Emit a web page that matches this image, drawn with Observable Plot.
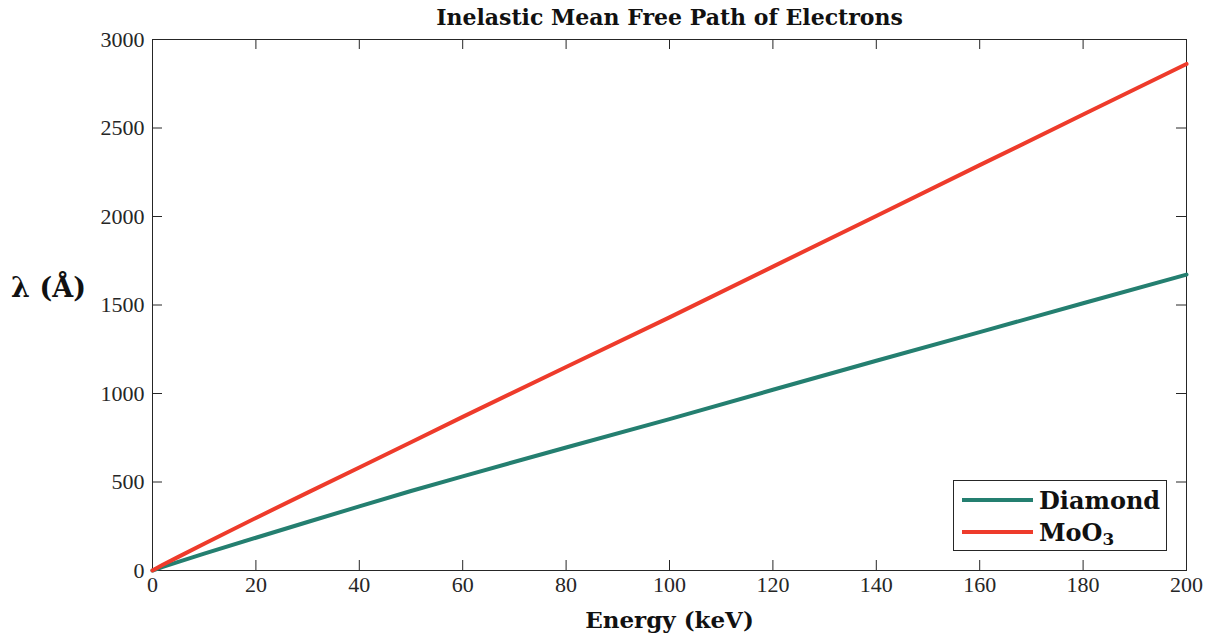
<!DOCTYPE html>
<html><head><meta charset="utf-8">
<script src="https://cdn.jsdelivr.net/npm/d3@7"></script>
<script src="https://cdn.jsdelivr.net/npm/@observablehq/plot@0.6"></script>
<style>
body{margin:0;background:#fff;}
#wrap{position:relative;width:1208px;height:635px;}
#legend{position:absolute;left:953px;top:480px;width:212px;height:69px;border:1px solid #262626;background:#fff;font-family:"DejaVu Serif";font-weight:bold;font-size:24px;color:#111;}
.row{position:absolute;left:0;height:32px;display:flex;align-items:center;white-space:nowrap;}
.sw{display:inline-block;width:71px;height:4px;margin-left:8px;margin-right:6px;}
sub{font-size:0.7em;vertical-align:-0.25em;line-height:0;}
</style></head><body><div id="wrap"><div id="legend"></div></div>
<script>
const energy  = [0, 2, 5, 10, 20, 30, 40, 50, 60, 80, 100, 120, 140, 160, 180, 200];
const diamond = [0, 20, 49, 95, 185, 274, 362, 449, 532, 695, 855, 1021, 1185, 1347, 1510, 1672];
const moo3    = [0, 32, 77, 151, 297, 440, 582, 725, 868, 1150, 1430, 1717, 2003, 2290, 2576, 2862];
const seriesNames = ["Diamond", "MoO3"];
const seriesLabels = ["Diamond", "MoO<sub>3</sub>"];
const xTicks = [0, 20, 40, 60, 80, 100, 120, 140, 160, 180, 200];
const yTicks = [0, 500, 1000, 1500, 2000, 2500, 3000];
const title = "Inelastic Mean Free Path of Electrons";
const xLabel = "Energy (keV)";
const yLabel = "λ (Å)";

const colors = ["#247f70", "#ee3b2b"];
const rows = [];
[diamond, moo3].forEach((vals, i) => energy.forEach((e, j) => rows.push({E: e, v: vals[j], s: seriesNames[i]})));

const W = 1208, H = 635, mT = 39, mB = 65, mL = 152, mR = 22;
const pw = W - mL - mR, ph = H - mT - mB, tl = 10;
const ink = "#262626";

const chart = Plot.plot({
  width: W, height: H, marginTop: mT, marginBottom: mB, marginLeft: mL, marginRight: mR,
  x: {domain: [0, 200]},
  y: {domain: [0, 3000]},
  color: {domain: seriesNames, range: colors},
  style: {fontFamily: "Liberation Serif", fontSize: "22px", color: ink, background: "white", overflow: "visible"},
  marks: [
    Plot.frame({stroke: ink, strokeWidth: 1}),
    Plot.tickX(xTicks, {x: d => d, insetTop: ph - tl, stroke: ink}),
    Plot.tickX(xTicks, {x: d => d, insetBottom: ph - tl, stroke: ink}),
    Plot.tickY(yTicks, {y: d => d, insetRight: pw - tl, stroke: ink}),
    Plot.tickY(yTicks, {y: d => d, insetLeft: pw - tl, stroke: ink}),
    Plot.line(rows, {x: "E", y: "v", z: "s", stroke: "s", strokeWidth: 4}),
    Plot.axisX({ticks: xTicks, tickSize: 0, tickPadding: 6, label: null, fill: ink, tickFormat: d => String(d)}),
    Plot.axisY({ticks: yTicks, tickSize: 0, tickPadding: 8, label: null, fill: ink, tickFormat: d => String(d)}),
    Plot.text([title], {frameAnchor: "top", lineAnchor: "middle", dy: -22, fontWeight: "bold", fontFamily: "DejaVu Serif", fontSize: 22, fill: "#111"}),
    Plot.text([xLabel], {frameAnchor: "bottom", lineAnchor: "middle", dy: 50, fontWeight: "bold", fontFamily: "DejaVu Serif", fontSize: 23, fill: "#111"}),
    Plot.text([yLabel], {frameAnchor: "left", textAnchor: "middle", lineAnchor: "middle", dx: -104, dy: -17, fontWeight: "bold", fontFamily: "DejaVu Serif", fontSize: 27, fill: "#111"})
  ]
});
document.getElementById("wrap").prepend(chart);

const legend = document.getElementById("legend");
seriesNames.forEach((n, i) => {
  const r = document.createElement("div");
  r.className = "row";
  r.style.top = (3 + i * 32) + "px";
  r.innerHTML = `<span class="sw" style="background:${colors[i]}"></span><span>${seriesLabels[i]}</span>`;
  legend.appendChild(r);
});
</script></body></html>
